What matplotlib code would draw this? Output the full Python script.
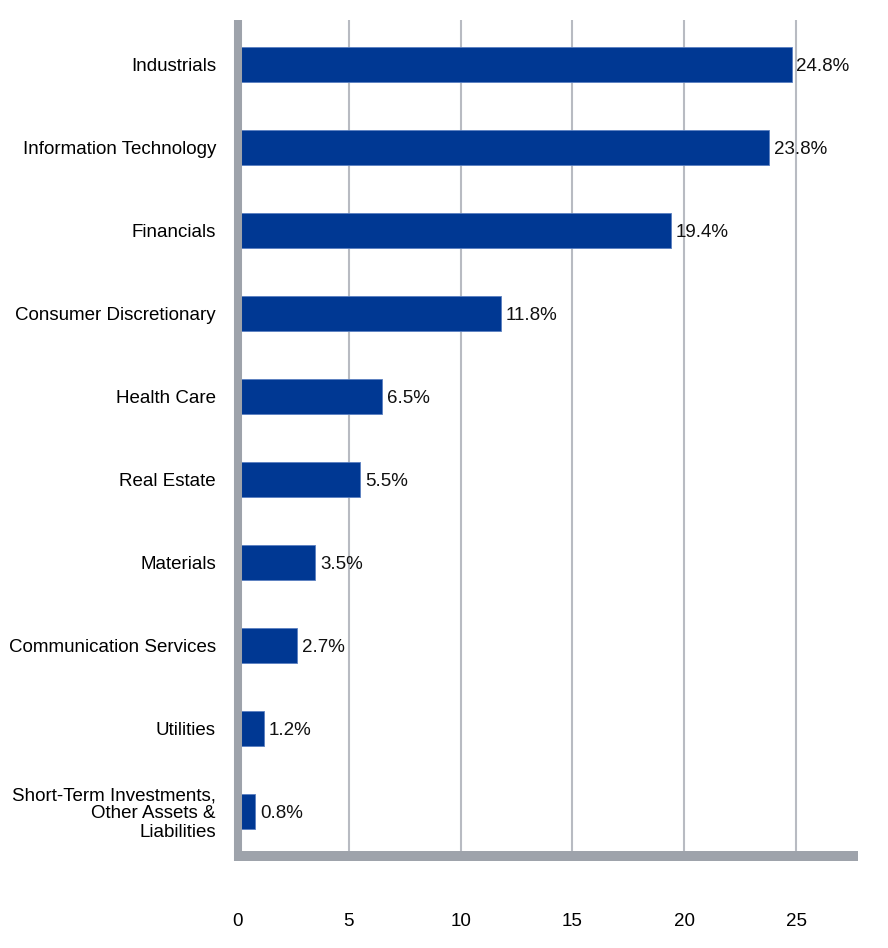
import matplotlib
matplotlib.use("Agg")
import matplotlib.pyplot as plt

categories = ["Industrials", "Information Technology", "Financials",
              "Consumer Discretionary", "Health Care", "Real Estate",
              "Materials", "Communication Services", "Utilities",
              "Short-Term Investments,\nOther Assets &\nLiabilities"]
values = [24.8, 23.8, 19.4, 11.8, 6.5, 5.5, 3.5, 2.7, 1.2, 0.8]
xticks = [0, 5, 10, 15, 20, 25]

plt.rcParams['font.family'] = ['Liberation Sans', 'DejaVu Sans']
FS = 13.5

fig = plt.figure(figsize=(8.88, 9.48), dpi=100)
ax = fig.add_axes([237/888, 1-856/948, (858-237)/888, (856-20)/948])

for s in ['top', 'right']:
    ax.spines[s].set_visible(False)
ax.spines['left'].set_position(('data', 0.05))
for s, lw in [('left', 5.8), ('bottom', 7.2)]:
    ax.spines[s].set_color('#9ea3ab')
    ax.spines[s].set_linewidth(lw)
    ax.spines[s].set_capstyle('butt')
    ax.spines[s].set_zorder(5)

y = list(range(len(categories)))
ax.barh(y, values, height=0.42, color='#003893', edgecolor='#5a7fc0', linewidth=0.6, zorder=3)
for yi, v in zip(y, values):
    ax.annotate(f"{v:.1f}%", (v, yi), xytext=(3.5, -1.5), textcoords='offset points',
                va='center', ha='left', fontsize=FS, color='#111111', zorder=4)

ax.set_xlim(0, 27.77)
ax.set_ylim(len(categories) - 0.46, -0.54)
ax.spines['left'].set_bounds(len(categories) - 0.40, -0.54)
ax.set_yticks(y)
ax.set_yticklabels(categories, fontsize=FS, linespacing=1.1)
ax.set_xticks(xticks)
ax.set_xticklabels([str(t) for t in xticks], fontsize=FS)
ax.tick_params(axis='y', length=0, pad=16)
ax.tick_params(axis='x', length=0, pad=41)
ax.grid(axis='x', color='#b8bbc2', linewidth=1.5, zorder=1)
ax.grid(axis='y', visible=False)

fig.savefig("out.png", dpi=100)
